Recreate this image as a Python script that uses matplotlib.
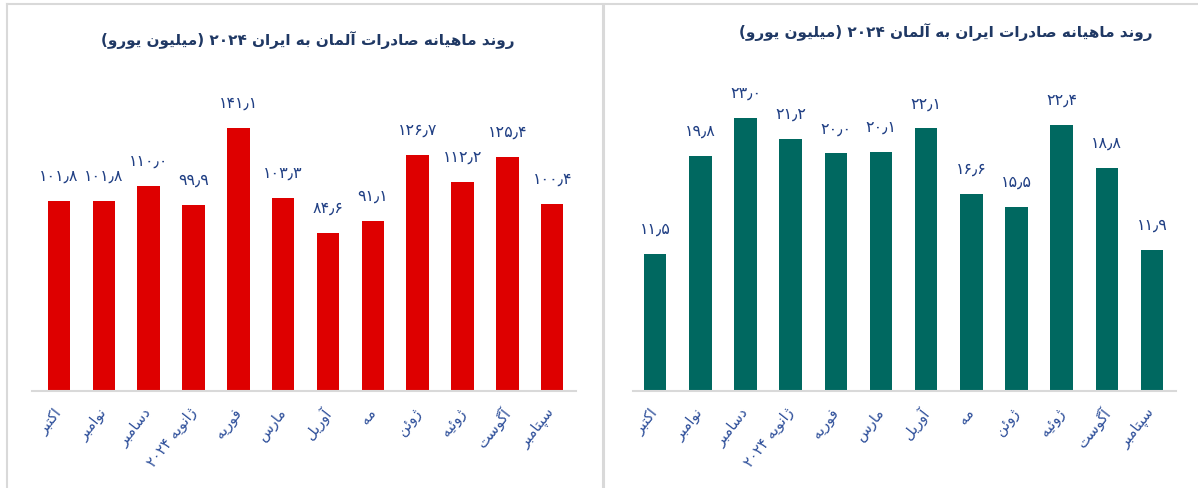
# Monthly Germany <-> Iran trade, 2024 (million EUR), two bar panels
import matplotlib.pyplot as plt
from matplotlib.lines import Line2D

months = ['اکتبر', 'نوامبر', 'دسامبر', 'ژانویه ۲۰۲۴', 'فوریه', 'مارس',
          'آوریل', 'مه', 'ژوئن', 'ژوئیه', 'آگوست', 'سپتامبر']
de_to_ir = [101.8, 101.8, 110.0, 99.9, 141.1, 103.3, 84.6, 91.1, 126.7, 112.2, 125.4, 100.4]
ir_to_de = [11.5, 19.8, 23.0, 21.2, 20.0, 20.1, 22.1, 16.6, 15.5, 22.4, 18.8, 11.9]

title_left = 'روند ماهیانه صادرات آلمان به ایران ۲۰۲۴ (میلیون یورو)'
title_right = 'روند ماهیانه صادرات ایران به آلمان ۲۰۲۴ (میلیون یورو)'

# --- tiny Persian shaper (matplotlib has no complex text layout) ---
# (isolated, final, initial, medial)
FORMS = {
    'ا': (0xFE8D, 0xFE8E), 'آ': (0xFE81, 0xFE82), 'د': (0xFEA9, 0xFEAA),
    'ر': (0xFEAD, 0xFEAE), 'ز': (0xFEAF, 0xFEB0), 'ژ': (0xFB8A, 0xFB8B),
    'و': (0xFEED, 0xFEEE),
    'ب': (0xFE8F, 0xFE90, 0xFE91, 0xFE92), 'پ': (0xFB56, 0xFB57, 0xFB58, 0xFB59),
    'ت': (0xFE95, 0xFE96, 0xFE97, 0xFE98), 'س': (0xFEB1, 0xFEB2, 0xFEB3, 0xFEB4),
    'ص': (0xFEB9, 0xFEBA, 0xFEBB, 0xFEBC), 'ف': (0xFED1, 0xFED2, 0xFED3, 0xFED4),
    'ک': (0xFB8E, 0xFB8F, 0xFB90, 0xFB91), 'گ': (0xFB92, 0xFB93, 0xFB94, 0xFB95),
    'ل': (0xFEDD, 0xFEDE, 0xFEDF, 0xFEE0), 'م': (0xFEE1, 0xFEE2, 0xFEE3, 0xFEE4),
    'ن': (0xFEE5, 0xFEE6, 0xFEE7, 0xFEE8), 'ه': (0xFEE9, 0xFEEA, 0xFEEB, 0xFEEC),
    'ی': (0xFBFC, 0xFBFD, 0xFBFE, 0xFBFF), 'ئ': (0xFE89, 0xFE8A, 0xFE8B, 0xFE8C),
}
DIGITS = set('۰۱۲۳۴۵۶۷۸۹0123456789')


def shape(s):
    out = []
    for i, c in enumerate(s):
        if c not in FORMS:
            out.append(c)
            continue
        f = FORMS[c]
        prev = i > 0 and s[i - 1] in FORMS and len(FORMS[s[i - 1]]) == 4
        nxt = len(f) == 4 and i + 1 < len(s) and s[i + 1] in FORMS
        if prev and nxt:
            out.append(chr(f[3]))
        elif prev:
            out.append(chr(f[1]))
        elif nxt:
            out.append(chr(f[2]))
        else:
            out.append(chr(f[0]))
    return ''.join(out)


def fa(s):
    s = shape(s)
    runs, cur, is_num = [], '', None
    for c in s:
        n = c in DIGITS
        if is_num is None or n == is_num:
            cur += c
        else:
            runs.append((is_num, cur))
            cur = c
        is_num = n
    runs.append((is_num, cur))
    mirror = {'(': ')', ')': '('}
    vis = []
    for n, r in reversed(runs):
        vis.append(r if n else ''.join(mirror.get(c, c) for c in reversed(r)))
    return ''.join(vis)


def fa_num(v):
    return f'{v:.1f}'.translate(str.maketrans('0123456789.', '۰۱۲۳۴۵۶۷۸۹٫'))


W, H = 1198, 489
fig = plt.figure(figsize=(W / 100, H / 100), dpi=100)

# panel borders
grey = '#D9D9D9'
fig.add_artist(Line2D([7 / W, 1], [1 - 5 / H] * 2, color=grey, lw=1.5))
fig.add_artist(Line2D([7 / W] * 2, [0, 1 - 5 / H], color=grey, lw=1.5))
fig.add_artist(Line2D([603 / W] * 2, [0, 1 - 5 / H], color=grey, lw=2.2))


def panel(x0, x1, values, color, ymax, xlim):
    ax = fig.add_axes([x0 / W, (H - 392) / H, (x1 - x0) / W, 332 / H])
    x = list(range(len(values)))
    ax.bar(x, values, width=0.5, color=color)
    ax.set_ylim(0, ymax)
    ax.set_xlim(*xlim)
    for xi, v in zip(x, values):
        ax.annotate(fa_num(v), (xi, v), xytext=(0, 18.5), textcoords='offset points',
                    ha='center', va='center', fontsize=11.5, color='#203F84')
    ax.set_xticks(x, labels=[fa(m) for m in months])
    for t in ax.get_xticklabels():
        t.set_rotation(52)
        t.set_ha('right')
        t.set_va('center')
        t.set_rotation_mode('anchor')
        t.set_color('#2E4F9A')
        t.set_fontsize(10.5)
    ax.tick_params(axis='x', length=0, pad=13)
    ax.set_yticks([])
    for side in ['top', 'right', 'left']:
        ax.spines[side].set_visible(False)
    ax.spines['bottom'].set_color(grey)
    ax.spines['bottom'].set_linewidth(1.5)
    return ax


panel(32, 576, de_to_ir, '#DE0000', 332 / 1.866, (-0.6, 11.53))
panel(633, 1176, ir_to_de, '#006860', 332 / 11.88, (-0.49, 11.53))

fig.text(308 / W, 1 - 40 / H, fa(title_left), ha='center', va='center',
         fontsize=11, fontweight='bold', color='#1F3864')
fig.text(946 / W, 1 - 32 / H, fa(title_right), ha='center', va='center',
         fontsize=11, fontweight='bold', color='#1F3864')

fig.savefig('out.png', dpi=100)
